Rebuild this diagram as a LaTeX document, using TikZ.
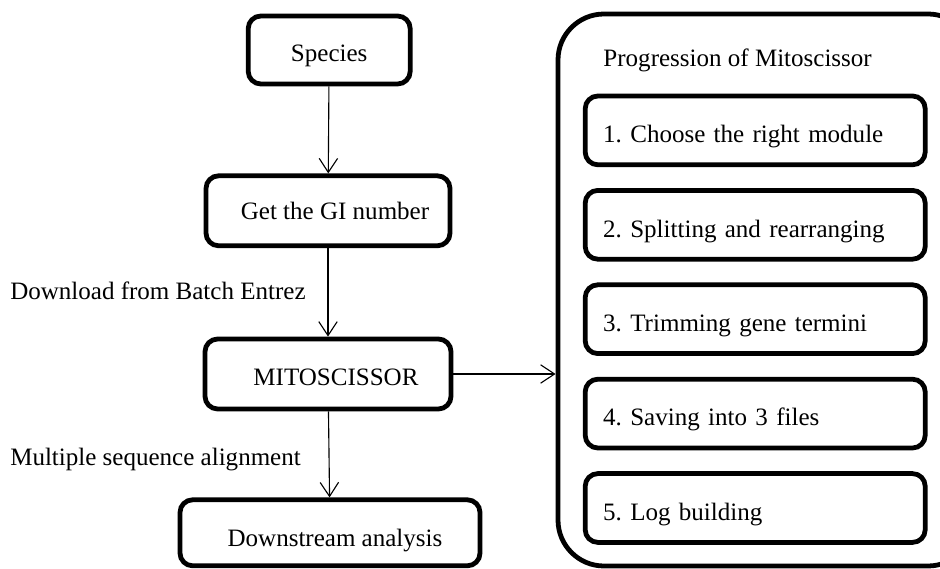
\documentclass[tikz,border=0pt]{standalone}
\usepackage{fontspec}
\setmainfont{Liberation Serif}
\usetikzlibrary{arrows.meta}
\frenchspacing
\newcommand{\lowtext}[2]{\raisebox{-#1}[0pt][0pt]{#2}}
\begin{document}
\begin{tikzpicture}[font=\fontsize{17.8}{21}\selectfont,
  box/.style={rectangle,draw,line width=3.4pt,rounded corners=9pt,inner sep=0pt},
  stagebox/.style={box,minimum width=8.5cm,minimum height=1.72cm,text width=7.6cm,align=left},
  link/.style={line width=0.8pt,-{Straight Barb[length=3.5mm,width=4.6mm]}}]
\useasboundingbox (0,0) rectangle (23.5,14.2);
\node[box,minimum width=4.05cm,minimum height=1.7cm] (Sp) at (8.23,12.95) {\lowtext{8pt}{Species}};
\node[box,minimum width=6.1cm,minimum height=1.75cm] (GI) at (8.2,8.93) {\hspace{0.35cm}\lowtext{6pt}{Get the GI number}};
\node[box,minimum width=6.15cm,minimum height=1.75cm] (M) at (8.2,4.85) {\hspace{0.4cm}\lowtext{8.4pt}{MITOSCISSOR}};
\node[box,minimum width=7.5cm,minimum height=1.65cm] (D) at (8.25,0.88) {\hspace{0.25cm}\lowtext{10pt}{Downstream analysis}};
\node[anchor=west,inner sep=0pt] (dl) at (0.25,6.93) {Download from Batch Entrez};
\node[anchor=west,inner sep=0pt] (msa) at (0.25,2.7) {Multiple sequence alignment};
% progression panel
\node[box,rounded corners=1.15cm,minimum width=10.4cm,minimum height=13.8cm] (P) at (19.15,6.95) {};
\node[anchor=west,inner sep=0pt] (Pt) at (15.08,12.68) {Progression of Mitoscissor};
\foreach \i/\t in {1/Choose the right module,2/Splitting and rearranging,3/Trimming gene termini,4/Saving into 3 files,5/Log building}
  \node[stagebox] (S\i) at (18.88,{13.3-2.36*\i}) {\lowtext{8.7pt}{\i. \t}};
\draw[link] (Sp)--(GI);
\draw[link] (GI)--(M);
\draw[link] (M)--(D);
\draw[link] (M.east)--(M.east-|P.west);
\end{tikzpicture}
\end{document}
